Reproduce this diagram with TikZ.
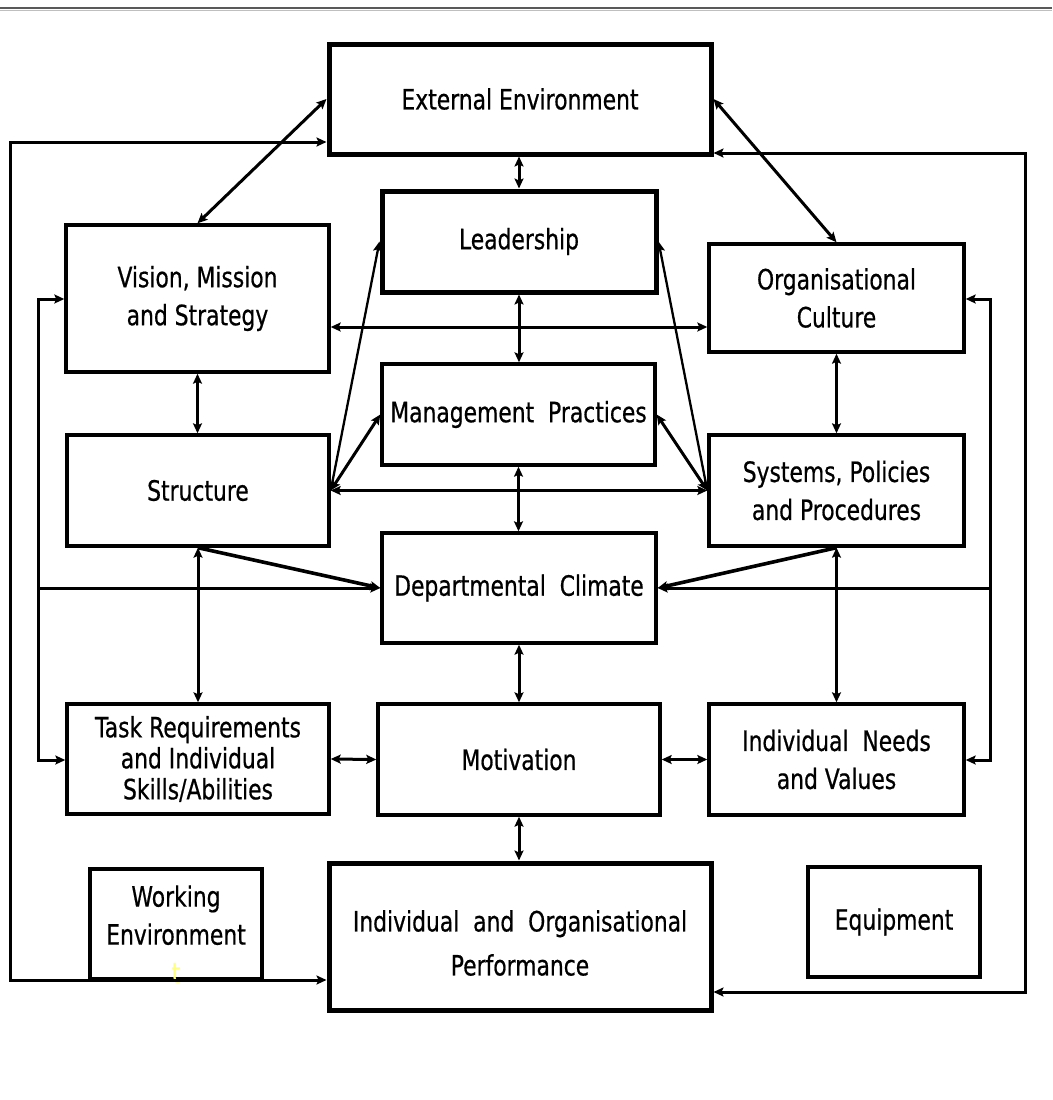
\documentclass[tikz,border=0pt]{standalone}
\usepackage{fontspec}
\setmainfont{DejaVu Sans}[FakeStretch=0.78,FakeBold=0.6]
\usetikzlibrary{arrows.meta}
\begin{document}
\begin{tikzpicture}[x=1pt,y=-1pt,
  box/.style={draw=black,line width=3.4pt,inner sep=0pt,align=center,
    font=\fontsize{28}{38}\selectfont},
  thickbox/.style={box,line width=5pt},
  conn/.style={line width=3pt,draw=black},
  tip/.style={-{Stealth[length=10pt,width=9pt,inset=2pt]}},
  dbl/.style={conn,{Stealth[length=10pt,width=9pt,inset=2pt]}-{Stealth[length=10pt,width=9pt,inset=2pt]}},
  one/.style={conn,tip},
  thin/.style={line width=2.3pt},
  label/.style={align=center,font=\fontsize{28}{38}\selectfont,inner sep=0pt}]
\useasboundingbox[fill=white] (0,0) rectangle (1052,1100);
\draw[line width=2.5pt,draw=black!65] (0,8) -- (1052,8);
\draw[line width=1.2pt,draw=black!25] (0,10.5) -- (1052,10.5);

% boxes
\node[thickbox,minimum width=382pt,minimum height=110pt] (ee) at (520,99) {External Environment};
\node[thickbox,minimum width=274pt,minimum height=101pt] (lead) at (519,241.5) {Leadership};
\node[box,minimum width=263pt,minimum height=147pt] (vis) at (197.5,298.5) {Vision, Mission\\and Strategy};
\node[box,minimum width=255pt,minimum height=108pt] (org) at (836.5,298) {Organisational\\Culture};
\node[box,minimum width=273pt,minimum height=101pt] (mgmt) at (518.5,414.5) {Management\ \ Practices};
\node[box,minimum width=262pt,minimum height=111pt] (str) at (198,490.5) {Structure};
\node[box,minimum width=255pt,minimum height=111pt] (sys) at (836.5,490.5) {Systems, Policies\\and Procedures};
\node[box,minimum width=274pt,minimum height=110pt] (dc) at (519,588) {Departmental\ \ Climate};
\node[box,minimum width=262pt,minimum height=110pt,font=\fontsize{28}{31}\selectfont] (task) at (198,759) {Task Requirements\\and Individual\\Skills/Abilities};
\node[box,minimum width=282pt,minimum height=111pt] (mot) at (519,759.5) {Motivation};
\node[box,minimum width=255pt,minimum height=111pt] (need) at (836.5,759.5) {Individual\ \ Needs\\and Values};
\node[thickbox,minimum width=382pt,minimum height=147pt] (perf) at (520,936.5) {};
\node[label] (perftext) at (520,943) {Individual\ \ and\ \ Organisational\\[6pt]Performance};
\node[box,minimum width=172pt,minimum height=110pt] (work) at (176,924) {};
\node[label] (worktext) at (176,934) {Working\\Environment\\\textcolor[HTML]{FFFF80}{t}};
\node[box,minimum width=172pt,minimum height=110pt] (equip) at (894,922) {Equipment};

% helper coordinates
\coordinate (L1) at (10,142);
\coordinate (L2) at (10,980);
\coordinate (R1) at (1025,153);
\coordinate (R2) at (1025,992);
\coordinate (li1) at (38,299);
\coordinate (li2) at (38,760);
\coordinate (li3) at (38,588);
\coordinate (ri1) at (990,299);
\coordinate (ri2) at (990,760);
\coordinate (ri3) at (990,588);
\coordinate (y327) at (0,327);

% outer loops
\draw[dbl] (ee.west |- L1) -- (L1) -- (L2) -- (perf.west |- L2);
\draw[dbl] (ee.east |- R1) -- (R1) -- (R2) -- (perf.east |- R2);

% top connectors
\draw[dbl] (ee.west) -- (vis.north);
\draw[dbl] (ee.east) -- (org.north);
\draw[dbl] (ee.south -| lead.north) -- (lead.north);
\draw[dbl] (lead.south) -- (lead.south |- mgmt.north);
\draw[dbl] (vis.east |- y327) -- (org.west |- y327);
\draw[dbl] (vis.south) -- (vis.south |- str.north);
\draw[dbl] (org.south) -- (org.south |- sys.north);
\draw[dbl] (str.east) -- (sys.west);
\draw[one,thin] (str.east) -- (lead.west);
\draw[one,thin] (sys.west) -- (lead.east);
\draw[dbl] (str.east) -- (mgmt.west);
\draw[dbl] (sys.west) -- (mgmt.east);
\draw[dbl] (mgmt.south) -- (mgmt.south |- dc.north);

% climate connectors
\draw[one,line width=3.6pt] (str.south) -- (dc.west);
\draw[one,line width=3.6pt] (sys.south) -- (dc.east);
\draw[dbl] (str.south) -- (str.south |- task.north);
\draw[dbl] (sys.south) -- (sys.south |- need.north);
\draw[dbl] (vis.west |- li1) -- (li1) -- (li2) -- (task.west |- li2);
\draw[one] (li3) -- (dc.west);
\draw[dbl] (org.east |- ri1) -- (ri1) -- (ri2) -- (need.east |- ri2);
\draw[one] (ri3) -- (dc.east);
\draw[dbl] (dc.south) -- (dc.south |- mot.north);

% bottom connectors
\draw[dbl] (task.east) -- (mot.west);
\draw[dbl] (mot.east) -- (need.west);
\draw[dbl] (mot.south) -- (mot.south |- perf.north);
\end{tikzpicture}
\end{document}
